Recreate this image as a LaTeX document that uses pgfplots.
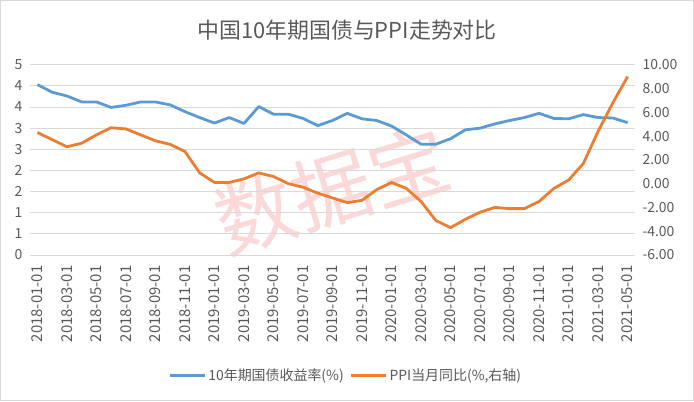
\documentclass[border=0pt]{standalone}
\usepackage{fontspec}
\setmainfont{Noto Sans CJK SC}
\usepackage{pgfplots}
\pgfplotsset{compat=1.18}

\definecolor{bondblue}{HTML}{5B9BD5}
\definecolor{ppiorange}{HTML}{ED7D31}
\definecolor{gridgray}{HTML}{D9D9D9}
\definecolor{labelgray}{HTML}{595959}
\definecolor{wmpink}{HTML}{FCD8D8}

% month index 0 = 2018-01
\pgfplotstableread{
m  y10
0  4.03
1  3.85
2  3.76
3  3.62
4  3.62
5  3.49
6  3.54
7  3.62
8  3.62
9  3.55
10 3.39
11 3.25
12 3.12
13 3.25
14 3.11
15 3.51
16 3.33
17 3.33
18 3.23
19 3.06
20 3.18
21 3.35
22 3.22
23 3.18
24 3.05
25 2.84
26 2.62
27 2.62
28 2.75
29 2.96
30 3.00
31 3.10
32 3.18
33 3.25
34 3.35
35 3.23
36 3.22
37 3.32
38 3.25
39 3.24
40 3.13
}\bondtable

\pgfplotstableread{
m  ppi
0  4.3
1  3.7
2  3.1
3  3.4
4  4.1
5  4.7
6  4.6
7  4.1
8  3.6
9  3.3
10 2.7
11 0.9
12 0.1
13 0.1
14 0.4
15 0.9
16 0.6
17 0.0
18 -0.3
19 -0.8
20 -1.2
21 -1.6
22 -1.4
23 -0.5
24 0.1
25 -0.4
26 -1.5
27 -3.1
28 -3.7
29 -3.0
30 -2.4
31 -2.0
32 -2.1
33 -2.1
34 -1.5
35 -0.4
36 0.3
37 1.7
38 4.4
39 6.8
40 9.0
}\ppitable

\pgfplotsset{
  common/.style={
    at={(30bp,146bp)}, anchor=south west,
    scale only axis, width=605bp, height=190.3bp,
    xmin=-0.5, xmax=40.5,
    tick label style={text=labelgray, font=\fontsize{14}{16}\selectfont},
    ytick style={draw=none},
    clip=false,
  },
}

\begin{document}
\begin{tikzpicture}[x=1bp,y=1bp]
\useasboundingbox (0,0) rectangle (694,401);
\draw[gridgray, line width=0.75bp] (0.5,0.5) rectangle (693.5,400.5);
\node[text=labelgray, font=\fontsize{22}{26}\selectfont] at (347,371) {中国10年期国债与PPI走势对比};
\node[rotate=17, text=wmpink, font=\fontsize{80}{88}\selectfont] at (332,211) {数据宝};

\begin{axis}[common,
  ymin=0, ymax=4.5,
  ytick={0,0.5,1,1.5,2,2.5,3,3.5,4,4.5},
  yticklabels={0,1,1,2,2,3,3,4,4,5},
  ymajorgrids, major grid style={draw=gridgray, line width=0.75bp},
  axis x line*=bottom, axis y line*=left,
  x axis line style={-, draw=gridgray, line width=0.75bp},
  y axis line style={draw=none},
  xtick={0,2,...,40},
  xticklabels={2018-01-01,2018-03-01,2018-05-01,2018-07-01,2018-09-01,2018-11-01,
    2019-01-01,2019-03-01,2019-05-01,2019-07-01,2019-09-01,2019-11-01,
    2020-01-01,2020-03-01,2020-05-01,2020-07-01,2020-09-01,2020-11-01,
    2021-01-01,2021-03-01,2021-05-01},
  xtick style={draw=none},
  xticklabel style={rotate=90, anchor=east, font=\fontsize{15}{16}\selectfont},
  xticklabel shift=7bp,
  yticklabel shift=4bp,
  extra x ticks={-0.5,1.5,...,39.5},
  extra x tick labels={},
  extra x tick style={major tick style={draw=gridgray, line width=0.75bp}, major tick length=5bp, tick align=outside},
]
\addplot[bondblue, line width=2.8bp, line join=round] table[x=m, y=y10] {\bondtable};
\end{axis}

\begin{axis}[common,
  ymin=-6, ymax=10,
  ytick={-6,-4,-2,0,2,4,6,8,10},
  yticklabels={-6.00,-4.00,-2.00,0.00,2.00,4.00,6.00,8.00,10.00},
  axis y line*=right, axis x line=none,
  y axis line style={draw=none},
  yticklabel style={anchor=west},
  yticklabel shift=4bp,
  legend columns=2,
  legend style={at={(0.522,-0.634)}, anchor=center, draw=none, fill=none,
    font=\fontsize{14}{16}\selectfont, text=labelgray,
    /tikz/every even column/.append style={column sep=4bp}},
  legend image code/.code={\draw[#1] (0bp,0bp) -- (35bp,0bp);},
]
\addlegendimage{bondblue, line width=2.8bp}
\addlegendentry{10年期国债收益率(\%)}
\addplot[ppiorange, line width=2.8bp, line join=round] table[x=m, y=ppi] {\ppitable};
\addlegendentry{PPI当月同比(\%,右轴)}
\end{axis}
\end{tikzpicture}
\end{document}
